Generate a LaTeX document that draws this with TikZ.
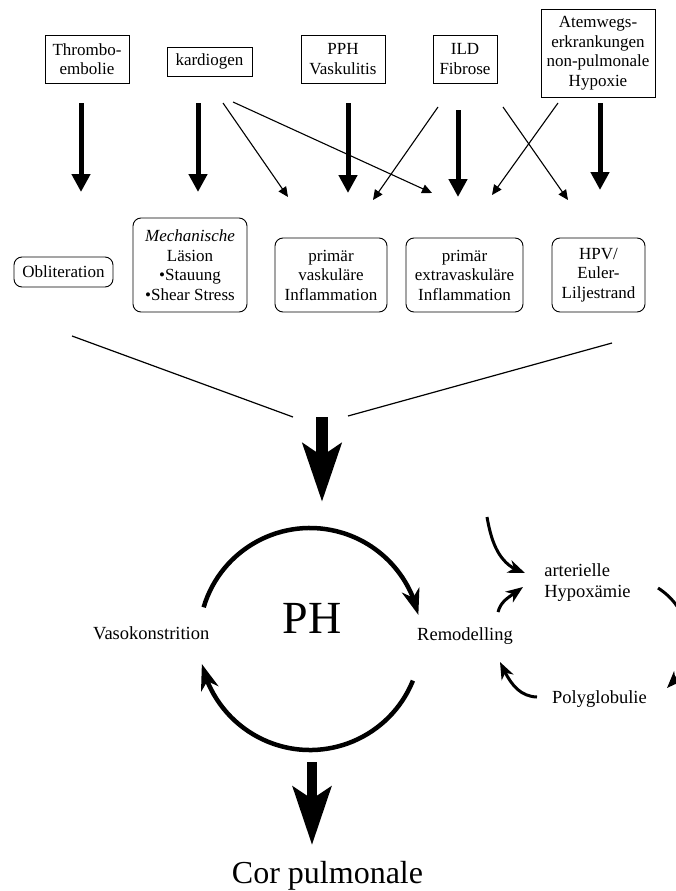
\documentclass[tikz,border=0pt]{standalone}
\usepackage{fontspec}
\setmainfont{Liberation Serif}
\usetikzlibrary{arrows.meta,bending}
\begin{document}
\begin{tikzpicture}[x=1pt,y=1pt,
  box/.style={draw,line width=0.9pt,align=center,inner sep=0pt,font=\fontsize{17}{19.5}\selectfont},
  rbox/.style={box,rounded corners=8pt},
  lbl/.style={font=\fontsize{18.5}{21}\selectfont,inner sep=0pt},
  thickarr/.style={line width=5pt,-{Triangle[length=18pt,width=18pt]}},
  thinarr/.style={line width=1.1pt,-{Triangle[length=10pt,width=9pt]}},
  bigarr/.style={line width=12pt,-{Stealth[length=58pt,width=38pt,inset=12pt]}},
  cycarr/.style={line width=4.5pt,-{Stealth[length=26pt,width=18pt,inset=8pt]}},
  smallcyc/.style={line width=3pt,-{Stealth[length=17pt,width=13pt,inset=5pt]}},
  funnel/.style={line width=1.2pt}]
\useasboundingbox (0,0) rectangle (676,-891);
\clip (0,0) rectangle (676,-891);

% top boxes
\node[box,minimum width=84pt,minimum height=48pt] (thr) at (87,-59) {Thrombo-\\embolie};
\node[box,minimum width=85pt,minimum height=29pt] (kar) at (209.5,-61.5) {kardiogen};
\node[box,minimum width=84pt,minimum height=48pt] (pph) at (343,-59) {PPH\\Vaskulitis};
\node[box,minimum width=64pt,minimum height=48pt] (ild) at (465,-59) {ILD\\Fibrose};
\node[box,minimum width=114pt,minimum height=88pt] (atm) at (598,-53) {Atemwegs-\\erkrankungen\\non-pulmonale\\Hypoxie};

% bottom boxes
\node[rbox,minimum width=99pt,minimum height=30pt] (obl) at (63.5,-272) {Obliteration};
\node[rbox,minimum width=114pt,minimum height=94pt] (mech) at (190,-265) {\textit{Mechanische}\\Läsion\\•Stauung\\•Shear Stress};
\node[rbox,minimum width=112pt,minimum height=74pt] (vask) at (331,-275) {primär\\vaskuläre\\Inflammation};
\node[rbox,minimum width=117pt,minimum height=74pt] (extra) at (464.5,-275) {primär\\extravaskuläre\\Inflammation};
\node[rbox,minimum width=93pt,minimum height=74pt] (hpv) at (598.5,-275) {HPV/\\Euler-\\Liljestrand};

% arrow end points
\coordinate (t1s) at (81,-103);  \coordinate (t1e) at (81,-192);
\coordinate (t2s) at (198,-103); \coordinate (t2e) at (198,-192);
\coordinate (t3s) at (348,-103); \coordinate (t3e) at (348,-193);
\coordinate (t4s) at (458,-110); \coordinate (t4e) at (458,-197);
\coordinate (t5s) at (600,-103); \coordinate (t5e) at (600,-190);
\coordinate (k1s) at (223,-103); \coordinate (k1e) at (288,-197);
\coordinate (k2s) at (233,-102); \coordinate (k2e) at (432,-193);
\coordinate (i1s) at (438,-107); \coordinate (i1e) at (373,-200);
\coordinate (i2s) at (503,-107); \coordinate (i2e) at (568,-200);
\coordinate (a1s) at (558,-103); \coordinate (a1e) at (492,-195);

\draw[thickarr] (t1s) -- (t1e);
\draw[thickarr] (t2s) -- (t2e);
\draw[thickarr] (t3s) -- (t3e);
\draw[thickarr] (t4s) -- (t4e);
\draw[thickarr] (t5s) -- (t5e);
\draw[thinarr] (k1s) -- (k1e);
\draw[thinarr] (k2s) -- (k2e);
\draw[thinarr] (i1s) -- (i1e);
\draw[thinarr] (i2s) -- (i2e);
\draw[thinarr] (a1s) -- (a1e);

% funnel
\coordinate (fl1) at (72,-336);  \coordinate (fl2) at (293,-417);
\coordinate (fr1) at (612,-343); \coordinate (fr2) at (348,-416);
\draw[funnel] (fl1) -- (fl2);
\draw[funnel] (fr1) -- (fr2);

% big arrows
\coordinate (b1) at (322,-417); \coordinate (b2) at (322,-502);
\draw[bigarr] (b1) -- (b2);
\coordinate (c1) at (312,-762); \coordinate (c2) at (312,-845);
\draw[bigarr,line width=10pt] (c1) -- (c2);

% PH cycle
\coordinate (pc) at (310,-639);
\coordinate (u1) at ([shift={(310,-639)}]163.4:111);
\coordinate (l1) at ([shift={(310,-639)}]-22:111);
\draw[cycarr] (u1) arc[start angle=163.4,end angle=12.5,radius=111];
\draw[cycarr] (l1) arc[start angle=-22,end angle=-167,radius=111];

% labels
\node[font=\fontsize{46}{50}\selectfont,inner sep=0pt,anchor=base] (ph) at (312,-633) {PH};
\node[lbl,anchor=base west] (vaso) at (93,-639) {Vasokonstrition};
\node[lbl,anchor=base west] (remo) at (417,-640) {Remodelling};
\node[lbl,align=left] (hyp) at (587.5,-583) {arterielle\\Hypoxämie};
\node[lbl,anchor=base west] (poly) at (552,-703) {Polyglobulie};
\node[font=\fontsize{32}{36}\selectfont,inner sep=0pt,anchor=base] (cor) at (327.5,-883) {Cor pulmonale};

% small cycle
\coordinate (s0) at (487,-517);  \coordinate (s0e) at (525,-573);
\coordinate (s1) at (498,-612);  \coordinate (s1e) at (523,-587);
\coordinate (s2) at (658,-588);  \coordinate (s2e) at (667,-688);
\coordinate (s3) at (537,-697);  \coordinate (s3e) at (500,-662);
\draw[smallcyc] (s0) to[out=-80,in=165] (s0e);
\draw[smallcyc] (s1) to[out=75,in=-140] (s1e);
\draw[smallcyc] (s2) .. controls (700,-615) and (692,-668) .. (s2e);
\draw[smallcyc] (s3) to[out=178,in=-65] (s3e);
\end{tikzpicture}
\end{document}
